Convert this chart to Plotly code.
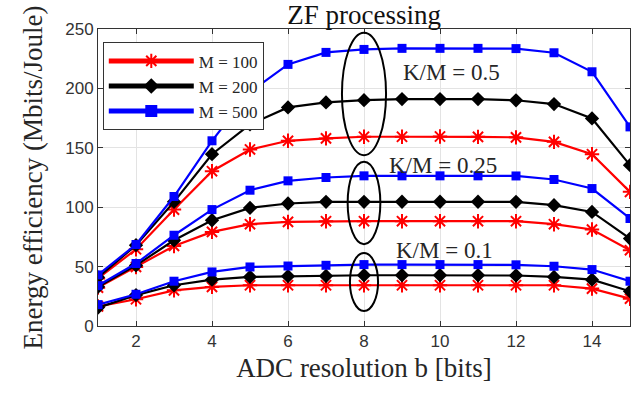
import plotly.graph_objects as go

bits = list(range(1, 16))

# K/M = 0.5
km05_m100 = [40, 64.6, 98, 130.3, 148.6, 155.9, 157.9, 159.3, 159.3, 159.5, 159.2, 158.8, 155, 144.6, 112.9]
km05_m200 = [41, 68, 104.5, 144.6, 169.7, 184, 188.2, 190.1, 191, 191, 191, 190, 186.8, 174.7, 135.4]
km05_m500 = [43, 68.6, 109, 155.9, 197, 220.2, 230.3, 232.8, 233.7, 233.7, 233.7, 233.5, 230, 214, 167.6]
# K/M = 0.25
km025_m100 = [32.3, 49.7, 67.4, 79.2, 85.7, 87.6, 88.2, 88.2, 88.2, 88.2, 88.2, 88.2, 85.7, 81.2, 63.8]
km025_m200 = [33, 51, 72.2, 89, 99.4, 103.1, 104.5, 104.5, 104.6, 104.6, 104.6, 104.5, 101.7, 96, 73.6]
km025_m500 = [34, 52.6, 76.4, 98, 114.3, 122.2, 125, 126.4, 126.4, 126.4, 126.4, 126.3, 123.3, 115.7, 90.5]
# K/M = 0.1
km01_m100 = [16.5, 22.5, 30, 32.9, 34.3, 34.3, 34.3, 34.3, 34.3, 34.3, 34.3, 34.3, 34.3, 31.5, 23]
km01_m200 = [15.5, 26, 34.3, 39, 41.3, 41.9, 42.1, 42.7, 42.7, 42.7, 42.7, 42.5, 41.3, 39, 29.2]
km01_m500 = [18, 26.7, 37.7, 45.5, 49.7, 50.5, 51.1, 51.7, 51.7, 51.7, 51.7, 51.5, 50.3, 47.5, 37.7]

legend_names = ["M = 100", "M = 200", "M = 500"]
colors = ["#ff0000", "#000000", "#0000ff"]
symbols = ["asterisk-open", "diamond", "square"]
sizes = [12, 11, 9]

groups = [
    [km05_m100, km05_m200, km05_m500],
    [km025_m100, km025_m200, km025_m500],
    [km01_m100, km01_m200, km01_m500],
]

# ellipse annotations (center bit, y-range, half-width)
ellipse_x = [8, 8, 8]
ellipse_y = [(143.8, 246.8), (68.8, 138.2), (12.6, 61.5)]
ellipse_hw = [0.58, 0.43, 0.37]
label_text = ["K/M = 0.5", "K/M = 0.25", "K/M = 0.1"]
label_x = [10.3, 10.08, 10.12]
label_y = [213, 135.4, 63.8]

SERIF = "Liberation Serif, DejaVu Serif, serif"
SANS = "Liberation Sans, Arial, sans-serif"

fig = go.Figure()
for gi, grp in enumerate(groups):
    for si, ys in enumerate(grp):
        fig.add_trace(go.Scatter(
            x=bits, y=ys, mode="lines+markers",
            name=legend_names[si], showlegend=(gi == 0),
            line=dict(color=colors[si], width=2.2),
            marker=dict(symbol=symbols[si], size=sizes[si], color=colors[si],
                        line=dict(color=colors[si], width=2 if si == 0 else 0)),
        ))

shapes = []
for cx, (y0, y1), hw in zip(ellipse_x, ellipse_y, ellipse_hw):
    shapes.append(dict(type="circle", xref="x", yref="y",
                       x0=cx - hw, x1=cx + hw, y0=y0, y1=y1,
                       line=dict(color="black", width=2)))

annotations = []
for t, lx, ly in zip(label_text, label_x, label_y):
    annotations.append(dict(x=lx, y=ly, xref="x", yref="y", text=t, showarrow=False,
                            font=dict(family=SERIF, size=23, color="#262626")))

fig.update_layout(
    width=641, height=394,
    margin=dict(l=98, r=11, t=29, b=68),
    paper_bgcolor="white", plot_bgcolor="white",
    title=dict(text="ZF processing", x=0.568, xanchor="center", y=0.962, yanchor="middle",
               font=dict(family=SERIF, size=27, color="#111")),
    shapes=shapes, annotations=annotations,
    legend=dict(x=0.009, y=0.955, xanchor="left", yanchor="top",
                bgcolor="white", bordercolor="#333", borderwidth=1,
                font=dict(family=SERIF, size=17, color="#262626"),
                itemwidth=85, tracegroupgap=0, itemsizing="constant"),
    showlegend=True,
)
fig.update_xaxes(range=[1, 15], tickvals=[2, 4, 6, 8, 10, 12, 14],
                 showgrid=True, gridcolor="#e3e3e3", gridwidth=1,
                 showline=True, linecolor="#333", linewidth=1, mirror="ticks",
                 ticks="inside", ticklen=5, tickcolor="#333",
                 zeroline=False, automargin=False,
                 tickfont=dict(family=SANS, size=17, color="#333"),
                 title=dict(text="ADC resolution b [bits]", standoff=7,
                            font=dict(family=SERIF, size=27, color="#262626")))
fig.update_yaxes(range=[0, 250], tickvals=[0, 50, 100, 150, 200, 250],
                 showgrid=True, gridcolor="#e3e3e3", gridwidth=1,
                 showline=True, linecolor="#333", linewidth=1, mirror="ticks",
                 ticks="inside", ticklen=5, tickcolor="#333",
                 zeroline=False, automargin=False,
                 tickfont=dict(family=SANS, size=17, color="#333"),
                 title=dict(text="Energy efficiency (Mbits/Joule)", standoff=14,
                            font=dict(family=SERIF, size=27, color="#262626")))

fig.write_html("out.html")
